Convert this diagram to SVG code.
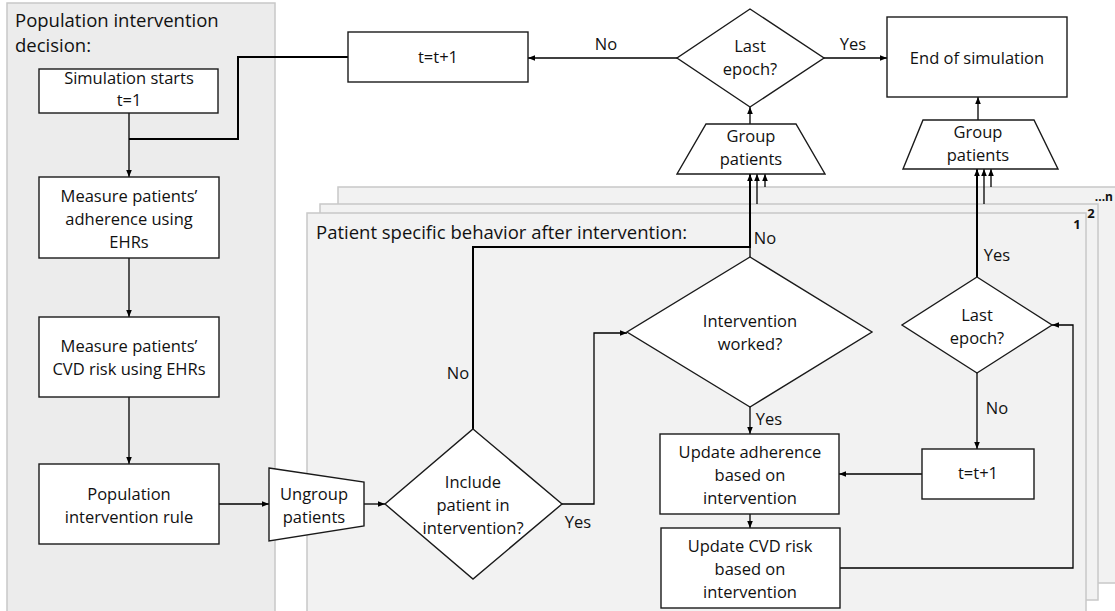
<svg xmlns="http://www.w3.org/2000/svg" width="1115" height="611" viewBox="0 0 1115 611">
<defs>
<marker id="ah" viewBox="0 0 10 10" refX="10" refY="5" markerWidth="7" markerHeight="7" markerUnits="userSpaceOnUse" orient="auto"><path d="M0,1 L10,5 L0,9 z" fill="#000"/></marker>
<style>
.panel{fill:#f2f2f2;stroke:#c8c8c8;stroke-width:1.5}
.lpanel{fill:#ececec;stroke:#c8c8c8;stroke-width:1.5}
.node{fill:#fff;stroke:#1a1a1a;stroke-width:1.4}
.t{font-family:"Open Sans","Liberation Sans",sans-serif;font-size:16.5px;fill:#111;text-anchor:middle}
.title{font-family:"Open Sans","Liberation Sans",sans-serif;font-size:18.5px;fill:#111}
.num{font-family:"Open Sans","Liberation Sans",sans-serif;font-size:13px;font-weight:bold;fill:#111;text-anchor:middle}
.c{fill:none;stroke:#000;stroke-width:1.3}
.thick{fill:none;stroke:#000;stroke-width:2}
.arr{marker-end:url(#ah)}
</style>
</defs>
<rect width="1115" height="611" fill="#fff"/>

<g id="panel-population">
<rect class="lpanel" x="7" y="3" width="268" height="620"/>
<text class="title" x="15" y="27">Population intervention</text>
<text class="title" x="15" y="52">decision:</text>
</g>

<g id="panel-n">
<rect class="panel" x="338" y="187" width="800" height="396"/>
<text class="num" x="1113" y="201" style="text-anchor:end;font-size:12px">...n</text>
</g>
<g id="panel-2">
<rect class="panel" x="320" y="204" width="778" height="396"/>
<text class="num" x="1091" y="218">2</text>
</g>
<g id="panel-1">
<rect class="panel" x="307" y="213" width="779" height="420"/>
<text class="num" x="1077" y="229">1</text>
<text class="title" x="316" y="239">Patient specific behavior after intervention:</text>
</g>

<g id="connectors">
<line class="c arr" x1="129" y1="113" x2="129" y2="177"/>
<polyline class="thick" points="348,57 238,57 238,139 129,139"/>
<line class="c arr" x1="129" y1="258" x2="129" y2="317"/>
<line class="c arr" x1="129" y1="397" x2="129" y2="464"/>
<line class="c arr" x1="219" y1="504" x2="269" y2="504"/>
<line class="c arr" x1="364" y1="504" x2="385" y2="504"/>
<polyline class="c arr" points="562,504 594,504 594,333 627,333"/>
<polyline class="thick arr" points="473,429 473,247 750,247 750,174"/>
<line class="c" x1="750" y1="257" x2="750" y2="247"/>
<line class="c arr" x1="750" y1="407" x2="750" y2="434"/>
<line class="c arr" x1="750" y1="514" x2="750" y2="528"/>
<polyline class="c arr" points="840,568 1073,568 1073,325 1052,325"/>
<line class="c arr" x1="977" y1="373" x2="977" y2="449"/>
<line class="c arr" x1="922" y1="474" x2="839" y2="474"/>
<line class="thick arr" x1="977" y1="277" x2="977" y2="169"/>
<line class="c arr" x1="757" y1="204" x2="757" y2="174"/>
<line class="c arr" x1="765" y1="187" x2="765" y2="174"/>
<line class="c arr" x1="984" y1="204" x2="984" y2="169"/>
<line class="c arr" x1="991" y1="187" x2="991" y2="169"/>
<line class="c arr" x1="750" y1="124" x2="750" y2="107"/>
<line class="c arr" x1="978" y1="120" x2="978" y2="97"/>
<line class="c arr" x1="677" y1="58" x2="528" y2="58"/>
<line class="c arr" x1="824" y1="58" x2="887" y2="58"/>
<text class="t" x="606" y="50">No</text>
<text class="t" x="853" y="50">Yes</text>
<text class="t" x="458" y="379">No</text>
<text class="t" x="578" y="528">Yes</text>
<text class="t" x="765" y="244">No</text>
<text class="t" x="769" y="425">Yes</text>
<text class="t" x="997" y="261">Yes</text>
<text class="t" x="997" y="414">No</text>
</g>

<g id="sim-start">
<rect class="node" x="39" y="69" width="179" height="44"/>
<text class="t" x="129" y="84">Simulation starts</text>
<text class="t" x="129" y="106">t=1</text>
</g>
<g id="measure-adherence">
<rect class="node" x="39" y="177" width="180" height="81"/>
<text class="t" x="129" y="202">Measure patients’</text>
<text class="t" x="129" y="225">adherence using</text>
<text class="t" x="129" y="248">EHRs</text>
</g>
<g id="measure-cvd">
<rect class="node" x="39" y="317" width="180" height="80"/>
<text class="t" x="129" y="352">Measure patients’</text>
<text class="t" x="129" y="375">CVD risk using EHRs</text>
</g>
<g id="population-rule">
<rect class="node" x="39" y="464" width="180" height="80"/>
<text class="t" x="129" y="500">Population</text>
<text class="t" x="129" y="523">intervention rule</text>
</g>
<g id="ungroup">
<polygon class="node" points="269,468 364,482 364,526 269,541"/>
<text class="t" x="314" y="500">Ungroup</text>
<text class="t" x="314" y="523">patients</text>
</g>
<g id="include-decision">
<polygon class="node" points="473,429 562,504 473,579 385,504"/>
<text class="t" x="473" y="488">Include</text>
<text class="t" x="473" y="511">patient in</text>
<text class="t" x="473" y="534">intervention?</text>
</g>
<g id="intervention-worked">
<polygon class="node" points="750,257 872,332 750,407 627,332"/>
<text class="t" x="750" y="327">Intervention</text>
<text class="t" x="750" y="350">worked?</text>
</g>
<g id="update-adherence">
<rect class="node" x="660" y="434" width="179" height="80"/>
<text class="t" x="750" y="458">Update adherence</text>
<text class="t" x="750" y="481">based on</text>
<text class="t" x="750" y="504">intervention</text>
</g>
<g id="update-cvd">
<rect class="node" x="661" y="528" width="179" height="80"/>
<text class="t" x="750" y="552">Update CVD risk</text>
<text class="t" x="750" y="575">based on</text>
<text class="t" x="750" y="598">intervention</text>
</g>
<g id="last-epoch-patient">
<polygon class="node" points="977,277 1052,325 977,373 902,325"/>
<text class="t" x="977" y="321">Last</text>
<text class="t" x="977" y="344">epoch?</text>
</g>
<g id="t-inc-patient">
<rect class="node" x="922" y="449" width="112" height="50"/>
<text class="t" x="978" y="479">t=t+1</text>
</g>
<g id="group-left">
<polygon class="node" points="706,124 796,124 825,174 677,174"/>
<text class="t" x="751" y="142">Group</text>
<text class="t" x="751" y="165">patients</text>
</g>
<g id="group-right">
<polygon class="node" points="923,120 1034,120 1058,169 903,169"/>
<text class="t" x="978" y="138">Group</text>
<text class="t" x="978" y="161">patients</text>
</g>
<g id="last-epoch-top">
<polygon class="node" points="750,9 824,58 750,107 677,58"/>
<text class="t" x="750" y="52">Last</text>
<text class="t" x="750" y="75">epoch?</text>
</g>
<g id="t-inc-top">
<rect class="node" x="348" y="32" width="180" height="50"/>
<text class="t" x="438" y="63">t=t+1</text>
</g>
<g id="end-sim">
<rect class="node" x="887" y="17" width="180" height="80"/>
<text class="t" x="977" y="64">End of simulation</text>
</g>
</svg>
